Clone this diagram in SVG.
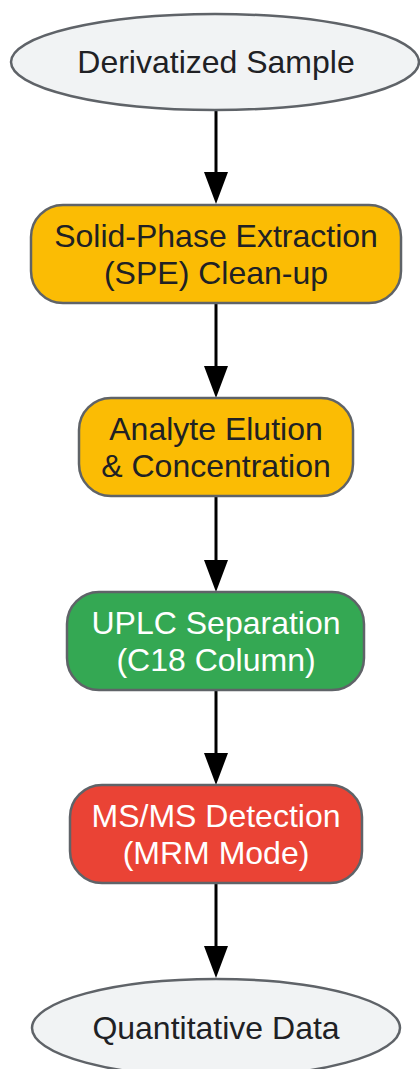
<svg xmlns="http://www.w3.org/2000/svg" width="420" height="1069" viewBox="0 0 420 1069">
<style>
.t{font-family:"Liberation Sans",Arial,sans-serif;font-size:32px;text-anchor:middle;fill:#202124}
.w{fill:#ffffff}
.term{fill:#f1f3f4;stroke:#5f6368;stroke-width:2.5}
.box{stroke:#5f6368;stroke-width:2.5}
.edge{stroke:#000;stroke-width:3;fill:none}
.head{fill:#000}
</style>
<g id="connectors">
<line class="edge" x1="216" y1="110" x2="216" y2="174"/>
<path class="head" d="M204,172 L228,172 L216,204 z"/>
<line class="edge" x1="216" y1="303" x2="216" y2="368"/>
<path class="head" d="M204,366 L228,366 L216,398 z"/>
<line class="edge" x1="216" y1="496" x2="216" y2="562"/>
<path class="head" d="M204,560 L228,560 L216,592 z"/>
<line class="edge" x1="216" y1="690" x2="216" y2="755"/>
<path class="head" d="M204,753 L228,753 L216,785 z"/>
<line class="edge" x1="216" y1="883" x2="216" y2="948"/>
<path class="head" d="M204,946 L228,946 L216,978 z"/>
</g>
<g id="n1">
<ellipse class="term" cx="215" cy="62" rx="204" ry="48"/>
<text class="t" x="216" y="73">Derivatized Sample</text>
</g>
<g id="n2">
<rect class="box" x="31" y="205" width="370" height="98" rx="32" fill="#fbbc04"/>
<text class="t" x="216" y="247">Solid-Phase Extraction</text>
<text class="t" x="216" y="284">(SPE) Clean-up</text>
</g>
<g id="n3">
<rect class="box" x="79" y="398" width="274" height="98" rx="32" fill="#fbbc04"/>
<text class="t" x="216" y="440">Analyte Elution</text>
<text class="t" x="216" y="477">&amp; Concentration</text>
</g>
<g id="n4">
<rect class="box" x="67" y="592" width="297" height="98" rx="32" fill="#34a853"/>
<text class="t w" x="216" y="634">UPLC Separation</text>
<text class="t w" x="216" y="671">(C18 Column)</text>
</g>
<g id="n5">
<rect class="box" x="70" y="785" width="292" height="98" rx="32" fill="#ea4335"/>
<text class="t w" x="216" y="827">MS/MS Detection</text>
<text class="t w" x="216" y="864">(MRM Mode)</text>
</g>
<g id="n6">
<ellipse class="term" cx="216" cy="1028" rx="184" ry="49"/>
<text class="t" x="216" y="1039">Quantitative Data</text>
</g>
</svg>
